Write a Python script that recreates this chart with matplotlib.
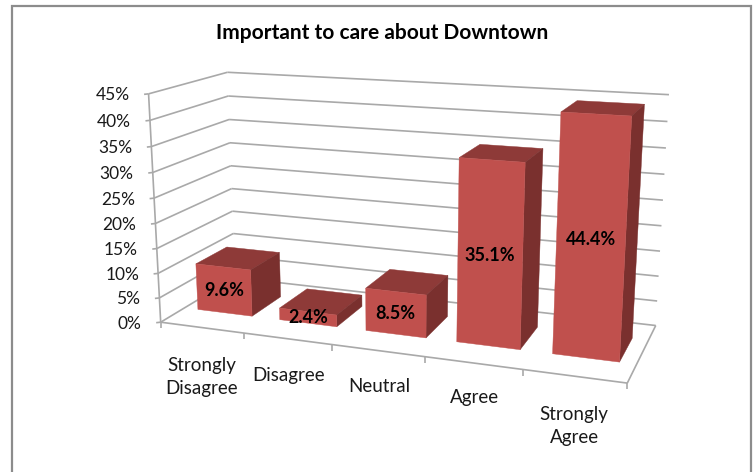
import numpy as np
import matplotlib
matplotlib.use("Agg")
import matplotlib.pyplot as plt
from matplotlib.patches import Polygon, Rectangle

categories = ["Strongly\nDisagree", "Disagree", "Neutral", "Agree", "Strongly\nAgree"]
values = [9.6, 2.4, 8.5, 35.1, 44.4]
value_labels = ["9.6%", "2.4%", "8.5%", "35.1%", "44.4%"]
y_ticks = [0, 5, 10, 15, 20, 25, 30, 35, 40, 45]
title = "Important to care about Downtown"

FRONT, TOP, SIDE = "#C0504D", "#8E3A38", "#7A302E"
GRID = "#A9A9A9"
BAR_W, D0, D1 = 0.667, 0.30, 0.72
LABEL_POS = [(202, 377), (289, 375), (379, 386), (474, 397), (574, 426)]

# Camera for the 3D box: world (category, depth, value) to figure pixels,
# solved from where the box frame sits on the canvas.
frame_world = [(0, 0, 0), (0, 0, 45), (0, 1, 45), (0, 1, 0), (5, 0, 0), (5, 1, 0), (5, 1, 45),
               (1, 0, 0), (2, 0, 0), (3, 0, 0), (4, 0, 0),
               (0, 1, 40), (0, 1, 30), (0, 1, 20), (0, 1, 10)]
frame_px = [(161.7, 320.7), (148.3, 93.3), (227.3, 72.7), (235, 278), (627.3, 382.3), (656, 325), (669, 95),
            (244, 335), (331.7, 345), (425, 356.7), (523.3, 370),
            (229, 96), (230, 142.7), (231, 188.3), (232.7, 233.3)]


def solve_camera(world, px):
    rows, rhs = [], []
    for (x, d, z), (u, v) in zip(world, px):
        rows.append([x, d, z, 1, 0, 0, 0, 0, -u * x, -u * d, -u * z])
        rows.append([0, 0, 0, 0, x, d, z, 1, -v * x, -v * d, -v * z])
        rhs += [u, v]
    p = np.linalg.lstsq(np.array(rows, float), np.array(rhs, float), rcond=None)[0]
    return np.append(p, 1).reshape(3, 4)


CAM = solve_camera(frame_world, frame_px)


def proj(x, d, z):
    h = CAM @ np.array([x, d, z, 1.0])
    return h[0] / h[2], h[1] / h[2]


plt.rcParams["font.family"] = ["Lato", "DejaVu Sans"]
fig = plt.figure(figsize=(7.55, 4.72), dpi=100)
ax = fig.add_axes([0, 0, 1, 1])
ax.set_xlim(0, 755)
ax.set_ylim(472, 0)
ax.axis("off")

ax.add_patch(Rectangle((12, 5.5), 738.5, 480, fc="white", ec="#8C8C8C", lw=1.6, clip_on=True))


def line(a, b, **kw):
    ax.plot([a[0], b[0]], [a[1], b[1]], color=GRID, lw=1.2, solid_capstyle="butt", zorder=2, **kw)


# Gridlines on the side and back walls
for v in y_ticks:
    line(proj(0, 0, v), proj(0, 1, v))
    line(proj(0, 1, v), proj(5, 1, v))
    a = proj(0, 0, v)
    line((a[0] - 4.5, a[1] + 0.5), a)
    ax.text(a[0] - 19, a[1] + 1.5, f"{v}%", ha="right", va="center", fontsize=12.5, color="#1a1a1a")

# Value axis and floor outline
line(proj(0, 0, 0), proj(0, 0, 45))
line(proj(0, 0, 0), proj(5, 0, 0))
line(proj(5, 0, 0), proj(5, 1, 0))
for i in range(6):
    a = proj(i, 0, 0)
    line(a, (a[0], a[1] + 6))

# Bars, left to right
for i, val in enumerate(values):
    x0, x1 = i + 0.5 - BAR_W / 2, i + 0.5 + BAR_W / 2
    faces = [
        ([(x0, D0, val), (x1, D0, val), (x1, D1, val), (x0, D1, val)], TOP),
        ([(x1, D0, 0), (x1, D1, 0), (x1, D1, val), (x1, D0, val)], SIDE),
        ([(x0, D0, 0), (x1, D0, 0), (x1, D0, val), (x0, D0, val)], FRONT),
    ]
    for corners, color in faces:
        ax.add_patch(Polygon([proj(*c) for c in corners], closed=True, fc=color, ec=color, lw=0.3, zorder=3 + i * 0.1))
    cx, cy = proj(i + 0.5, D0, val / 2)
    ax.text(cx, cy + 0.5, value_labels[i], ha="center", va="center", fontsize=13, fontweight="bold", color="black", zorder=5)

for (lx, ly), name in zip(LABEL_POS, categories):
    ax.text(lx, ly, name, ha="center", va="center", fontsize=13.5, color="#1a1a1a", linespacing=1.45)

ax.text(382, 33, title, ha="center", va="center", fontsize=15, fontweight="bold", color="black")

fig.savefig("out.png", dpi=100, facecolor="white")
